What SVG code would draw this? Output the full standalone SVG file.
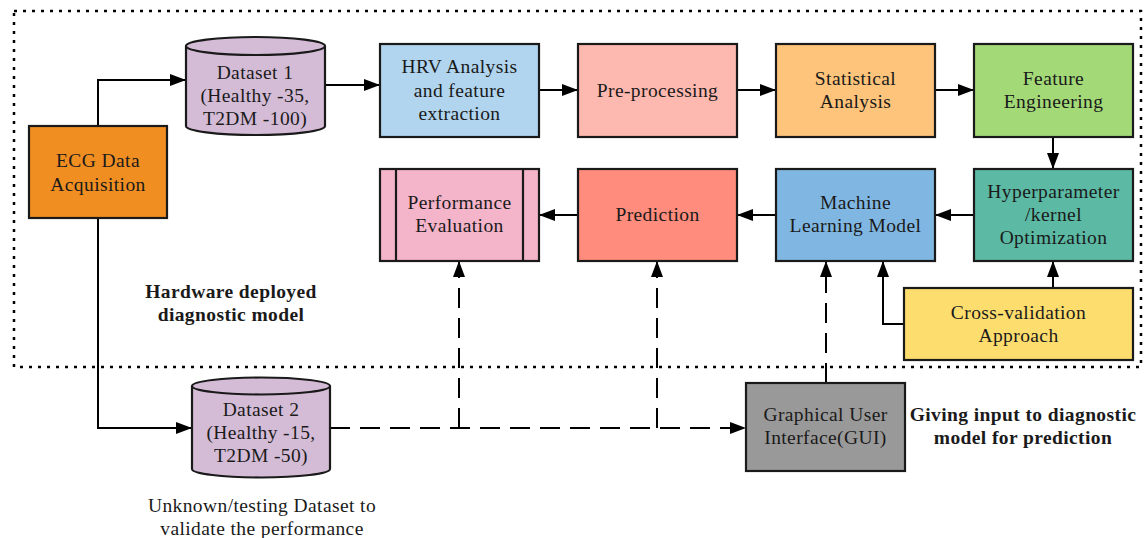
<svg xmlns="http://www.w3.org/2000/svg" width="1144" height="538" viewBox="0 0 1144 538">
<defs>
<marker id="ah" markerWidth="16" markerHeight="12" refX="15" refY="6" orient="auto" markerUnits="userSpaceOnUse">
<path d="M0,0 L16,6 L0,12 Z" fill="#000"/>
</marker>
<style>
.box{stroke:#1a1a1a;stroke-width:2.2}
.t{font-family:"Liberation Serif","DejaVu Serif",serif;font-size:19.5px;letter-spacing:0.4px;fill:#1a1a1a;text-anchor:middle}
.b{font-weight:bold}
.ln{fill:none;stroke:#000;stroke-width:2}
.dash{fill:none;stroke:#000;stroke-width:2;stroke-dasharray:20 10}
</style>
</defs>
<rect width="1144" height="538" fill="#fff"/>
<rect x="14" y="11" width="1127" height="356" fill="none" stroke="#000" stroke-width="2.5" stroke-dasharray="3 6"/>

<g id="connectors">
<path class="ln" d="M98,126 V80 H185" marker-end="url(#ah)"/>
<path class="ln" d="M325,85 H379" marker-end="url(#ah)"/>
<path class="ln" d="M539,90 H577" marker-end="url(#ah)"/>
<path class="ln" d="M737,90 H775" marker-end="url(#ah)"/>
<path class="ln" d="M935,90 H973" marker-end="url(#ah)"/>
<path class="ln" d="M1053,137 V168" marker-end="url(#ah)"/>
<path class="ln" d="M974,215 H936" marker-end="url(#ah)"/>
<path class="ln" d="M776,215 H738" marker-end="url(#ah)"/>
<path class="ln" d="M578,215 H540" marker-end="url(#ah)"/>
<path class="ln" d="M1053,288 V262" marker-end="url(#ah)"/>
<path class="ln" d="M904,324 H883 V262" marker-end="url(#ah)"/>
<path class="ln" d="M98,218 V428 H191" marker-end="url(#ah)"/>
<path class="dash" d="M330,428 H745" marker-end="url(#ah)"/>
<path class="dash" d="M459,428 V262" marker-end="url(#ah)"/>
<path class="dash" d="M657,428 V262" marker-end="url(#ah)"/>
<path class="dash" d="M826,383 V262" marker-end="url(#ah)"/>
</g>

<g id="ecg">
<rect class="box" x="29" y="126" width="138" height="92" fill="#f08e22"/>
<text class="t" x="98" y="167">ECG Data</text>
<text class="t" x="98" y="191">Acquisition</text>
</g>

<g id="dataset1">
<path class="box" d="M186,46 V126 A69.5,9 0 0 0 325,126 V46 A69.5,9 0 0 0 186,46 Z" fill="#d4bcd6"/>
<path d="M186,46 A69.5,9 0 0 0 325,46" fill="none" stroke="#1a1a1a" stroke-width="2.2"/>
<text class="t" x="255" y="79">Dataset 1</text>
<text class="t" x="255" y="102">(Healthy -35,</text>
<text class="t" x="255" y="125">T2DM -100)</text>
</g>

<g id="hrv">
<rect class="box" x="380" y="44" width="159" height="93" fill="#b1d5ef"/>
<text class="t" x="459.5" y="73">HRV Analysis</text>
<text class="t" x="459.5" y="97">and feature</text>
<text class="t" x="459.5" y="120">extraction</text>
</g>

<g id="preprocessing">
<rect class="box" x="578" y="44" width="159" height="93" fill="#fdb8b0"/>
<text class="t" x="657.5" y="97">Pre-processing</text>
</g>

<g id="statistical">
<rect class="box" x="776" y="44" width="159" height="93" fill="#fec47b"/>
<text class="t" x="855.5" y="85">Statistical</text>
<text class="t" x="855.5" y="108">Analysis</text>
</g>

<g id="feature">
<rect class="box" x="974" y="44" width="159" height="93" fill="#a3d977"/>
<text class="t" x="1053.5" y="85">Feature</text>
<text class="t" x="1053.5" y="108">Engineering</text>
</g>

<g id="performance">
<rect class="box" x="380" y="169" width="159" height="92" fill="#f4b4c9"/>
<line x1="396" y1="169" x2="396" y2="261" stroke="#1a1a1a" stroke-width="2.2"/>
<line x1="523" y1="169" x2="523" y2="261" stroke="#1a1a1a" stroke-width="2.2"/>
<text class="t" x="459.5" y="209">Performance</text>
<text class="t" x="459.5" y="232">Evaluation</text>
</g>

<g id="prediction">
<rect class="box" x="578" y="169" width="159" height="92" fill="#ff8c7c"/>
<text class="t" x="657.5" y="221">Prediction</text>
</g>

<g id="ml">
<rect class="box" x="776" y="169" width="159" height="92" fill="#80b7e2"/>
<text class="t" x="855.5" y="209">Machine</text>
<text class="t" x="855.5" y="232">Learning Model</text>
</g>

<g id="hyper">
<rect class="box" x="974" y="169" width="159" height="92" fill="#5bb9a4"/>
<text class="t" x="1053.5" y="198">Hyperparameter</text>
<text class="t" x="1053.5" y="221">/kernel</text>
<text class="t" x="1053.5" y="244">Optimization</text>
</g>

<g id="crossval">
<rect class="box" x="904" y="288" width="229" height="72" fill="#fedd6f"/>
<text class="t" x="1018.5" y="319">Cross-validation</text>
<text class="t" x="1018.5" y="342">Approach</text>
</g>

<g id="gui">
<rect class="box" x="746" y="383" width="159" height="88" fill="#999999"/>
<text class="t" x="825.5" y="421">Graphical User</text>
<text class="t" x="825.5" y="444">Interface(GUI)</text>
</g>

<g id="dataset2">
<path class="box" d="M192,386 V469 A69,8.5 0 0 0 330,469 V386 A69,8.5 0 0 0 192,386 Z" fill="#d4bcd6"/>
<path d="M192,386 A69,8.5 0 0 0 330,386" fill="none" stroke="#1a1a1a" stroke-width="2.2"/>
<text class="t" x="261" y="416">Dataset 2</text>
<text class="t" x="261" y="439">(Healthy -15,</text>
<text class="t" x="261" y="462">T2DM -50)</text>
</g>

<g id="labels">
<text class="t b" x="231" y="298">Hardware deployed</text>
<text class="t b" x="231" y="321">diagnostic model</text>
<text class="t" x="262" y="512">Unknown/testing Dataset to</text>
<text class="t" x="262" y="535">validate the performance</text>
<text class="t b" x="1023" y="421">Giving input to diagnostic</text>
<text class="t b" x="1023" y="444">model for prediction</text>
</g>
</svg>
